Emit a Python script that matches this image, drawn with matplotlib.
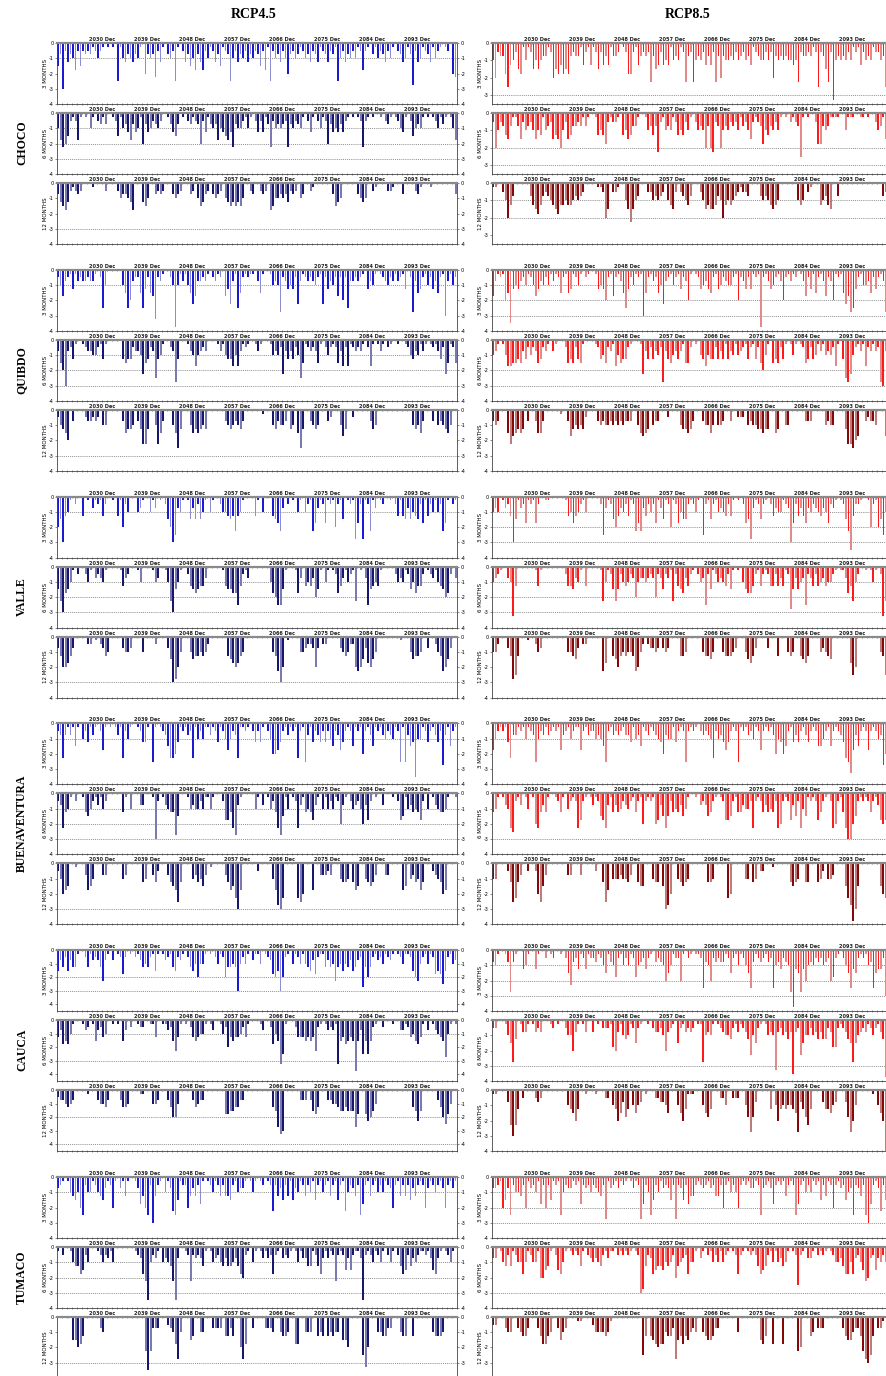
import numpy as np
import matplotlib
matplotlib.use("Agg")
import matplotlib.pyplot as plt
from matplotlib.transforms import blended_transform_factory

# SPI deficit codes: one character per half year, 2021-2100, decades separated by spaces.
# '0' = no deficit, every step along CODES is 0.25 further below zero.
CODES = "0123456789abcdefgh"

REGIONS = ["CHOCO", "QUIBDO", "VALLE", "BUENAVENTURA", "CAUCA", "TUMACO"]
TIMESCALES = ["3 MONTHS", "6 MONTHS", "12 MONTHS"]
SCENARIOS = ["RCP4.5", "RCP8.5"]
YEAR_LABELS = ["2030 Dec", "2039 Dec", "2048 Dec", "2057 Dec",
               "2066 Dec", "2075 Dec", "2084 Dec", "2093 Dec"]

CHOCO_RCP45 = [
    "63c25347262323124210 1010a145345341083439 2510342a102536473572 412536123a4253425342 36271a24352483243124 352351235231a4253424 12721031423524102354 13b25412351421012089",
    "47986212710104102313 00126143573541835423 42001356301023123825 13437456759344214102 52513924343293423410 25102412835453521010 12921010010231012451 02643410101241310147",
    "35675212320000100002 00002433457000564003 23200034320003204653 20343204565656400230 02320764434352320430 02100000003654000000 34540021000022100030 00023100010000000003",
]
CHOCO_RCP85 = [
    "482337a5426714126464 33128675767323315215 12625351332012772153 23293652545143412932 94342535293834434243 24351234424283434344 5492332312a23692d434 34241215243412243a45",
    "28423563113624324645 14326568426533231310 01545721221054653310 01435392143412545241 02434838923843423241 32462123745342410102 123a1010027734311110 04111001101002431632",
    "11002485300000035675 32345675545543432000 00112860221004696430 00224343204562023453 00024656653485454321 22300003434565400000 00454021000543560030 00000000000000003200",
]
QUIBDO_RCP45 = [
    "247321513233233102a4 00000046a83226a5267d 2310024f413146973323 102312075931a6212110 361001434b2354529312 3234219253427282a332 32105341012342313215 02b365214253621c3142",
    "368c3251001233442151 0000005655233496523a 5410023b500013474323 00001314557473121001 31000143429353524a61 23236102421263727123 23102710131021001001 24534131012135296126",
    "24568030000233232044 00000036554035995004 96300046a50004656545 00000003454345300000 00100045344305406a50 03454000320004750020 00000354000000000000 00454630003043456400",
]
QUIBDO_RCP85 = [
    "7312186e545324124753 42413126216512410210 0154582172136a524121 c6213264932142152381 01254356215423442182 3525121f213542138213 12013725162137238121 697ba521443625213b43",
    "43101477665635242365 23103100026562561000 01254623174655210001 93525342b35643531662 01045745525351534143 21521526841065625101 41012652541314342710 5ab942131723132bc312",
    "34300069765650300366 30000001003754545200 00343443434343330046 76504330002000045565 30003446404430030022 20434455655006500440 00000333000004344000 0599a870032334000760",
]
VALLE_RCP45 = [
    "86c54102005010312152 00105182400043100413 010268ca341016362641 04100244565954100005 10400056793020104104 2197312712182160121b 72b12913012001025156 36456271524142971021",
    "69c76410200241032341 00000153200014000014 300149c6410025676553 000000156677a5213000 00000478aa6100017305 45386104101275314219 0103a654510000024341 26475520123145687203",
    "35887530000022010235 40000034430000400002 000036cb840004655454 20000000567875400000 000000459c8010000443 22383022000003454228 98637864000000000100 04655400300245986300",
]
VALLE_RCP85 = [
    "43401325c61327121720 01100000015475421400 0002a312685342512979 35242713612812746621 2410a216214345251010 276b312621025344123c 72535734234534723101 269e522100182186a421",
    "43210034d50000000151 00000000025563410500 00019412696245423843 34323823623192567352 10243a26124345261010 4677521521255253512b 63643a23525435442101 1375942001014102d963",
    "44200035ba5000100243 00000000004456302200 00009700568545445984 20233430343000055400 00004556400045554300 04675300003000500045 40056750000434560000 0007a800000000045a87",
]
BUENAVENTURA_RCP45 = [
    "23931316104251310271 010131924100125510a1 01236998512132914241 13125124742391121025 2510248875213121921a 31523525246237521261 21821361213423412a1a 365e4412521352b31621",
    "23954102001564213142 0000005104000330001c 2013455b600014344241 14100027759b31000004 103014259b6140129315 45731041424128310243 24837201003000102761 43545720401345541001",
    "24876001000376400033 00000043000000540035 20003567a50000435463 010000035769c7000000 20000047bc9000009a80 00700333230004554057 60045653000330000076 04354750002345870000",
]
BUENAVENTURA_RCP85 = [
    "74212159331214123a42 31321217321421172132 24346a21323213351436 12312345834415212a21 210232349243575212a1 21324127212138458621 53521352126642162123 59ad736212721243b832",
    "54101349a21301401895 35100125104212972101 31267931535423421521 82121873696254536410 01032365210127762155 34429212535452982127 36294612127521029821 59cc8621212521378743",
    "44000025a9530020028a 63000000003300030000 02005a70444344530056 600045506cb800456540 00000055400000980000 04405402200010000005 65400550005420443000 069bfc600000000689a8",
]
CAUCA_RCP45 = [
    "63526355100251323593 10301272010213545216 10132156231025648441 010241285545c4241031 140123786c8210412414 56372115354954645365 32b58521324123101241 12689421412767a62143",
    "53767410001320163254 00101063020012200115 00113269510102565441 01300142856554251000 013002746da100025556 565921013231d657656f 63a6a621002000100331 254675103013456b4101",
    "23345430000010003445 30000355400001100044 30003588400000354330 00000007766553300000 00000056bdc000000333 0367500033445665666b 70079864000000000000 005696000000358a7400",
]
CAUCA_RCP85 = [
    "3410013b310054100510 02012001026932512512 23124613472142412743 25210323486412281021 0112a348232331262141 246a31232132a435234b f56b5843423243287210 246a56212143a6552c85",
    "22000146b50133101323 00012010024483101300 30102221783145412621 00102332483210621323 2011b434101234452131 2359462101434d324353 e3296442435355237721 2356b643231242135f96",
    "11000039c95020000232 00000000004568500100 01000220458637504643 01000223346000468511 10004675000224002220 047b7300000504854544 56b35795000035564300 037b8400000010468gc9",
]
TUMACO_RCP45 = [
    "3210145648a244124563 1281031510013758a2c5 2104139a612285352710 12412525562143310141 01201292536251634125 24162142152162194235 2a721521424123821525 26352128312421382131",
    "10200145576240001242 3140000000012379e423 1043459e300129232351 01432453554357821041 01313272103231014133 55125731312921263621 13e21241241024102576 25342112136731012410",
    "00000066875000000340 0000000000000009e933 30002347b40006500440 00333305535008b70030 00033340045540077004 44005450545440668000 00ad8000445533000455 00500000004555400000",
]
TUMACO_RCP85 = [
    "3321863a244528132417 2826121a423312172324 23452b1321312101312b 724a624132362b236275 52123213255282142482 1213312a321372121521 2a721424121625128213 2643a2352ac721392632",
    "33014525124474124418 86510267410121251023 4345213110212121012c b5237655645428543274 41031021424142101272 10121257652141435410 12a21033102121012443 57747324698326342431",
    "22000344003455300035 77540036430000110000 24444541000000000000 a505678774553b657564 34004566533000000040 00000006750070007000 00980005403330000000 356643359bca50331000",
]

SERIES = {
    "RCP4.5": [CHOCO_RCP45, QUIBDO_RCP45, VALLE_RCP45, BUENAVENTURA_RCP45, CAUCA_RCP45, TUMACO_RCP45],
    "RCP8.5": [CHOCO_RCP85, QUIBDO_RCP85, VALLE_RCP85, BUENAVENTURA_RCP85, CAUCA_RCP85, TUMACO_RCP85],
}

# axis floor and dotted guide levels, per region and timescale
YMIN = {
    "RCP4.5": [[-4, -4, -4], [-4, -4, -4], [-4, -4, -4], [-4, -4, -4], [-4.5, -4.5, -4.5], [-4, -4, -4]],
    "RCP8.5": [[-3.5, -3.5, -3.5], [-4, -4, -4], [-4, -4, -4], [-4, -4, -4], [-4, -4, -4], [-4, -4, -4]],
}
GUIDES = {
    "RCP4.5": [[[-1], [-1, -2, -3], [-3]], [[-1], [-1, -2, -3], [-3]], [[-1], [-1, -2, -3], [-3]],
               [[-1], [-1, -2, -3], [-3]], [[-2, -3], [-1, -3], [-2, -4]], [[-1], [-1, -2, -3], [-3]]],
    "RCP8.5": [[[-3], [-2, -3], [-1, -2]], [[-1, -2, -3], [-2, -3], []], [[-1, -2, -3], [-1, -2, -3], []],
               [[-1], [-3], []], [[-1, -2, -3], [-3], []], [[-1, -2, -3], [-3], []]],
}

COLORS = {
    "RCP4.5": [("#1a1ad0", "#8c8cd0"), ("#16166e", "#7a7aae"), ("#16166e", "#7a7aae")],
    "RCP8.5": [("#ff1a1a", "#e08a8a"), ("#ff1a1a", "#e08a8a"), ("#850808", "#bd7c7c")],
}
BAR_WIDTH = [0.3, 0.34, 0.42]


def decode(code):
    # each decade chunk covers exactly ten years of the axis
    xs, vs = [], []
    for j, chunk in enumerate(code.split()):
        n = len(chunk)
        for i, c in enumerate(chunk):
            xs.append(10 * j + (i + 0.5) * 10.0 / n)
            vs.append(-0.25 * CODES.index(c))
    return np.array(xs), np.array(vs)


W, H = 887.0, 1376.0
fig = plt.figure(figsize=(W / 100, H / 100), dpi=100)
fig.patch.set_facecolor("white")

serif = ["Liberation Serif", "DejaVu Serif"]

for col, scen in enumerate(SCENARIOS):
    left = 57 if col == 0 else 492
    fig.text((254 if col == 0 else 688) / W, 1 - 15 / H, scen, ha="center", va="center",
             fontsize=10, fontweight="bold", family=serif)
    for r, region in enumerate(REGIONS):
        top_r = 43 + 226.8 * r
        if col == 0:
            fig.text(22 / W, 1 - (top_r + 100) / H, region, rotation=90, ha="center", va="center",
                     fontsize=8.5, fontweight="bold", family=serif)
        for k in range(3):
            top = top_r + 70 * k
            ax = fig.add_axes([left / W, 1 - (top + 61) / H, 400 / W, 61 / H])
            x, v = decode(SERIES[scen][r][k])
            dark, light = COLORS[scen][k]
            cols = [dark if i % 2 == 0 else light for i in range(len(x))]
            ax.bar(x, v, width=BAR_WIDTH[k], color=cols, linewidth=0)

            ymin = YMIN[scen][r][k]
            for g in GUIDES[scen][r][k]:
                ax.axhline(g, color="#666666", lw=0.5, ls=(0, (1.5, 1.5)), zorder=0)
            ax.set_xlim(0, 80)
            ax.set_ylim(ymin, 0)

            ax.set_xticks(np.arange(0, 81, 1))
            ax.set_xticklabels([])
            ax.tick_params(axis="x", top=True, bottom=True, direction="inout",
                           length=2, width=0.4, color="#333333")
            yt = np.arange(0, ymin - 0.01, -1)
            ax.set_yticks(yt)
            labels = [f"{t:g}" for t in yt]
            if r == len(REGIONS) - 1 and k == 2:
                labels[-1] = ""  # floor label falls below the page edge
            ax.set_yticklabels(labels)
            ax.tick_params(axis="y", labelsize=3.5, length=1.5, width=0.4, pad=1,
                           right=True, labelright=(col == 0), color="#333333")

            for side in ("left", "right", "bottom"):
                ax.spines[side].set_color("#444444")
                ax.spines[side].set_linewidth(0.6)
            ax.spines["top"].set_color("#8a8a8a")
            ax.spines["top"].set_linewidth(1.6)

            trans = blended_transform_factory(ax.transData, ax.transAxes)
            for j, lab in enumerate(YEAR_LABELS):
                ax.text(9 + 9 * j, 1.015, lab, transform=trans, ha="center", va="bottom",
                        fontsize=3.6, fontweight="bold", color="#222222")
            ax.text(-0.028, 0.5, TIMESCALES[k], transform=ax.transAxes, rotation=90,
                    ha="center", va="center", fontsize=4)

fig.savefig("out.png", dpi=100, facecolor="white")
